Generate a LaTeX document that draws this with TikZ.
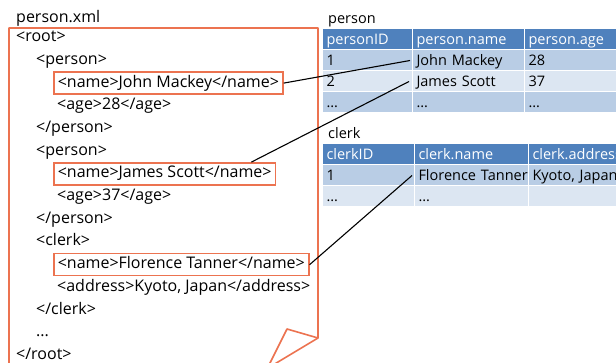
\documentclass[tikz,border=0pt]{standalone}
\usepackage{fontspec}
\setmainfont{Open Sans}
\usepackage{tikz}
\usetikzlibrary{positioning,calc}
\definecolor{xmlorange}{RGB}{236,115,80}
\definecolor{hdblue}{RGB}{79,129,189}
\definecolor{rowdark}{RGB}{185,205,229}
\definecolor{rowlight}{RGB}{220,230,242}

\begin{document}
\begin{tikzpicture}[x=1pt,y=-1pt,
  every node/.style={font=\fontsize{16}{19}\selectfont,inner sep=0pt},
  xml/.style={anchor=base west},
  hit/.style={draw=xmlorange,line width=1.6pt,anchor=base west,inner xsep=4pt,inner ysep=0pt,text height=15pt,text depth=7pt},
  cell/.style={anchor=north west,draw=white,line width=1pt,minimum height=21pt,inner xsep=4pt,
    text height=11pt,text depth=0pt,align=left,font=\fontsize{14.5}{17}\selectfont},
  hd/.style={cell,fill=hdblue,text=white},
  rowa/.style={cell,fill=rowdark},
  rowb/.style={cell,fill=rowlight},
  link/.style={black,line width=1.1pt}]
\path[use as bounding box] (0,0) rectangle (616,363);
\clip (0,0) rectangle (616,363);

% the xml file, folded page
\node[xml] (fileLbl) at (16,22.7) {person.xml};
\draw[xmlorange,line width=1.6pt,line join=round] (9,380)--(9,28)--(318,28)--(318,338)--(248,380);
\draw[xmlorange,line width=1.6pt,line join=round] (318,338)--(287,329)--(266,371);

\node[xml] (root) at (16,41.7) {<root>};
\node[xml] (pA) at (36,64.4) {<person>};
\node[hit] (xmlJohn) at (53,87.1) {<name>John Mackey</name>};
\node[xml] (ageA) at (57,109.8) {<age>28</age>};
\node[xml] (pAend) at (36,132.5) {</person>};
\node[xml] (pB) at (36,155.2) {<person>};
\node[hit] (xmlJames) at (53,177.9) {<name>James Scott</name>};
\node[xml] (ageB) at (57,200.6) {<age>37</age>};
\node[xml] (pBend) at (36,223.3) {</person>};
\node[xml] (cA) at (36,246) {<clerk>};
\node[hit] (xmlFlorence) at (53,268.7) {<name>Florence Tanner</name>};
\node[xml] (addrA) at (57,291.4) {<address>Kyoto, Japan</address>};
\node[xml] (cAend) at (36,314.1) {</clerk>};
\node[xml] (more) at (36,336.8) {...};
\node[xml] (rootend) at (16,359.5) {</root>};

% person table
\node[xml,font=\fontsize{14.5}{17}\selectfont] (personLbl) at (328,23.3) {person};
\node[hd,text width=82pt] (pHid) at (322,28) {\underline{personID}};
\node[hd,text width=104pt] (pHname) at (412,28) {person.name};
\node[hd,text width=108pt] (pHage) at (524,28) {person.age};
\node[rowa,text width=82pt] (pId1) at (322,49.5) {1};
\node[rowa,text width=104pt] (pName1) at (412,49.5) {John Mackey};
\node[rowa,text width=108pt] (pAge1) at (524,49.5) {28};
\node[rowb,text width=82pt] (pId2) at (322,70.5) {2};
\node[rowb,text width=104pt] (pName2) at (412,70.5) {James Scott};
\node[rowb,text width=108pt] (pAge2) at (524,70.5) {37};
\node[rowa,text width=82pt] (pId3) at (322,91.5) {...};
\node[rowa,text width=104pt] (pName3) at (412,91.5) {...};
\node[rowa,text width=108pt] (pAge3) at (524,91.5) {...};

% clerk table
\node[xml,font=\fontsize{14.5}{17}\selectfont] (clerkLbl) at (328,138.3) {clerk};
\node[hd,text width=84pt] (cHid) at (322,143) {clerkID};
\node[hd,text width=106pt] (cHname) at (414,143) {clerk.name};
\node[hd,text width=104pt] (cHaddr) at (528,143) {\mbox{clerk.address}};
\node[rowa,text width=84pt] (cId1) at (322,164.5) {1};
\node[rowa,text width=106pt] (cName1) at (414,164.5) {\mbox{Florence Tanner}};
\node[rowa,text width=104pt] (cAddr1) at (528,164.5) {\mbox{Kyoto, Japan}};
\node[rowb,text width=84pt] (cId2) at (322,185.5) {...};
\node[rowb,text width=106pt] (cName2) at (414,185.5) {...};
\node[rowb,text width=104pt] (cAddr2) at (528,185.5) {};

% name fields to columns
\draw[link] (xmlJohn.east)--([xshift=-2pt]pName1.west);
\draw[link] ([xshift=-25pt]xmlJames.north east)--([xshift=-3pt]pName2.west);
\draw[link] (xmlFlorence.east)--([xshift=-2pt]cName1.west);
\end{tikzpicture}
\end{document}
